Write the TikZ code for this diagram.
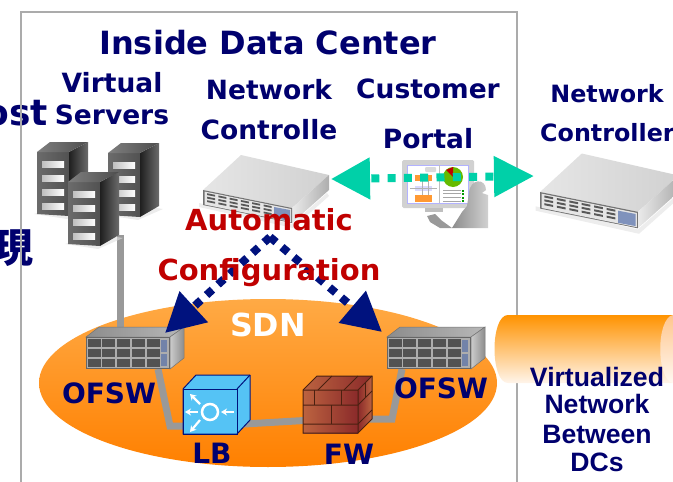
\documentclass[tikz,border=0pt]{standalone}
\usepackage{fontspec}
\setmainfont{DejaVu Sans}
\newfontfamily\arialf{Liberation Sans}
\newfontfamily\cjkf{Noto Sans CJK JP}
\usetikzlibrary{arrows.meta,calc,shapes.geometric}
\definecolor{navytext}{HTML}{00006E}
\definecolor{navyarrow}{HTML}{00127E}
\definecolor{tealarrow}{HTML}{00D0A8}
\definecolor{redtext}{HTML}{C00000}
\definecolor{framegray}{HTML}{ABABAB}
\definecolor{linkgray}{HTML}{999999}
\definecolor{lbfront}{HTML}{55C3F5}
\definecolor{cloudtop}{HTML}{FFAA45}
\definecolor{cloudbot}{HTML}{FF8000}
\definecolor{brickl}{HTML}{BC6340}
\definecolor{brickr}{HTML}{8A2A2A}
\definecolor{brickline}{HTML}{4A2010}
\definecolor{panelblue}{HTML}{7F92BC}
\tikzset{
  x=1pt,y=-1pt,
  lab/.style={font=\bfseries\fontsize{#1}{#1}\selectfont,text=navytext,inner sep=0pt,anchor=base},
  lab/.default=26.5,
  alab/.style={font=\arialf\bfseries\fontsize{26.6}{26.6}\selectfont,text=navytext,inner sep=0pt,anchor=base},
  redlab/.style={font=\bfseries\fontsize{29}{29}\selectfont,text=redtext,inner sep=0pt,anchor=base},
  hit/.style={inner sep=0pt,outer sep=0pt,minimum width=#1},
  link/.style={draw=linkgray,line width=7pt,line join=miter},
  autoarrow/.style={draw=navyarrow,line width=8pt,dash pattern=on 8pt off 7.6pt,
     -{Triangle[length=39pt,width=40pt,fill=navyarrow]}},
  portalarrow/.style={draw=tealarrow,line width=8pt,dash pattern=on 8pt off 8.3pt,dash phase=13pt,
     {Triangle[length=39pt,width=40pt,fill=tealarrow]}-{Triangle[length=40pt,width=39pt,fill=tealarrow]}},
}
\newcommand{\towerbox}[2]{%
 \begin{scope}[shift={(#1,#2)}]
  \fill[black!12,opacity=.6] (-3,62) -- (30,67) -- (55,56) -- (30,52) -- cycle;
  \shade[left color=black!58,right color=black!68] (0,0) -- (32,0) -- (32,64) -- (0,62) -- cycle;
  \shade[left color=black!88,right color=black!58] (32,0) -- (51,-10) -- (51,53) -- (32,64) -- cycle;
  \shade[left color=black!50,right color=black!70] (0,0) -- (13,-10) -- (51,-10) -- (32,0) -- cycle;
  \foreach \r in {0,1,2,3}{
   \shade[left color=black!25,right color=white] (5,{9+\r*14}) rectangle (27,{15+\r*14});
  }
 \end{scope}}
\newcommand{\ctrlbox}[3]{%
 \begin{scope}[shift={(#1,#2)},scale=#3]
  \fill[black!10,opacity=.7] (-4,13) -- (89,34) -- (124,3) -- (126,6) -- (90,38) -- (-4,17) -- cycle;
  \shade[left color=black!10,right color=black!18] (0,0) -- (38,-35) -- (126,-15) -- (89,18) -- cycle;
  \shade[left color=black!8,right color=black!32] (89,18) -- (126,-15) -- (126,0) -- (89,33) -- cycle;
  \fill[black!55] (0,0) -- (89,18) -- (89,33) -- (0,15) -- cycle;
  \fill[black!10] (1.5,1.5) -- (88,19) -- (88,32) -- (1.5,14.5) -- cycle;
  \foreach \c in {0,...,5}{\foreach \r in {0,1,2}{
    \fill[black!65] ({4+\c*11.3},{3.2+(\c*11.3)*.2+\r*3.5}) -- ++(8,1.6) -- ++(0,1.8) -- ++(-8,-1.6) -- cycle;
  }}
  \fill[panelblue] (71,17) -- (87,20) -- (87,31) -- (71,28) -- cycle;
 \end{scope}}
\newcommand{\swbox}[2]{%
 \begin{scope}[shift={(#1,#2)}]
  \shade[left color=black!45,right color=black!28,draw=black!55,line width=.5pt] (0,0) -- (13,-10) -- (98,-10) -- (84,0) -- cycle;
  \shade[left color=black!20,right color=black!45,draw=black!55,line width=.5pt] (84,0) -- (98,-10) -- (98,21) -- (84,32) -- cycle;
  \fill[black!60] (0,0) rectangle (84,32);
  \fill[black!32] (.7,.7) rectangle (83.3,31.3);
  \foreach \c in {0,...,4}{\foreach \r in {0,1,2}{
    \fill[black!68] ({1.5+\c*14.8},{2+\r*10}) rectangle ++(13,8);
  }}
  \fill[panelblue!90!black] (75,3) rectangle (81,15);
  \fill[panelblue!90!black] (75,17) rectangle (81,29);
 \end{scope}}
\begin{document}
\begin{tikzpicture}
\useasboundingbox (0,0) rectangle (673,482);
\clip (0,0) rectangle (673,482);
% labels cut by the page edge
\node[lab=36,anchor=base east] (hosttail) at (48,125) {ost};
\node[font=\cjkf\bfseries\fontsize{40}{40}\selectfont,text=navytext,inner sep=0pt] (kanji) at (14,248) {現};
% frame
\draw[framegray,line width=2.5pt] (21,490) -- (21,12) -- (517,12) -- (517,490);
% cylinder
\shade[top color=orange!85!yellow,bottom color=orange!8] (508,315) -- (680,315) -- (680,383) -- (508,383)
   .. controls (490,383) and (490,315) .. (508,315) -- cycle;
\shade[top color=orange!45,bottom color=orange!5] (673,315) .. controls (656,318) and (656,380) .. (673,383) -- cycle;
% cloud
\node[ellipse,minimum width=458pt,minimum height=168pt,inner sep=0pt,top color=cloudtop,bottom color=cloudbot] (sdn) at (268,383) {};
% anchors for connectors
\node[hit=32pt,minimum height=60pt] (srv) at (84,212) {};
\node[hit=84pt,minimum height=32pt] (ofswL) at (128,353) {};
\node[hit=84pt,minimum height=32pt] (ofswR) at (429,353) {};
\node[hit=54pt,minimum height=45pt] (lb) at (210,411) {};
\node[hit=55pt,minimum height=43pt] (fw) at (330,411) {};
\coordinate (srvdrop) at (120,235);
\coordinate (bendL) at (170,426);
\coordinate (bendR) at (392,419);
\coordinate (apex) at (270,237);
\coordinate (tipL) at (165,333);
\coordinate (tipR) at (382,332);
\coordinate (ctrlEnd) at (331,179);
\coordinate (ctrl2End) at (534,176);
% connectors under devices
\draw[link] (srvdrop) -- (srvdrop|-ofswL.north);
\draw[link] ([xshift=30pt]ofswL.south) -- (bendL) -- (lb.center|-bendL);
\draw[link] (lb.center|-bendL) -- (fw.center|-bendR);
\draw[link] (fw.center|-bendR) -- (bendR) -- ([xshift=-27pt]ofswR.south);
% servers
\towerbox{37}{152}
\towerbox{108}{153}
\towerbox{68}{182}
% controllers
\ctrlbox{203}{190}{1}
\ctrlbox{540}{192}{1.1}
% portal
\node[hit=72pt,minimum height=48pt] (portal) at (438,184) {};
\fill[black!18,rounded corners=1.5pt] (402,160) rectangle (474,208);
\fill[white,draw=blue!30,line width=.8pt] (407,165) rectangle (468,203);
\draw[black!25,line width=.5pt] (439,165) -- (439,203);
\fill[orange!80] (415,175) rectangle (432,181);
\fill[orange!80] (415,195) rectangle (432,202);
\fill[blue!15] (415,186) rectangle (432,191);
\draw[black!30,line width=.4pt] (410,188) -- (437,188) (422,181) -- (422,195) (428,181) -- (428,195);
\fill[black!15,rounded corners=1pt] (425,167) rectangle (436,172);
\fill[green!55!black!60!yellow] (453,177) circle (10);
\fill[red!75!black] (453,177) -- (446,170) -- (453,167) -- cycle;
\foreach \r in {0,...,3}{\draw[black!35,line width=.6pt] (443,{190+\r*3.6}) -- (461,{190+\r*3.6});
  \fill[green!60!black] (462,{189.5+\r*3.6}) rectangle ++(2,2);}
\fill[black!25] (425,208) rectangle (443,212);
\shade[left color=black!45,right color=black!18] (452,228) -- (462,212) -- (467,206) -- (469,193) .. controls (470,178) and (486,178) .. (486,190) -- (482,193) -- (488,195) -- (488,228) -- cycle;
\fill[black!40] (427,216) -- (435,214) -- (441,220) -- (452,228) -- (440,228) -- (430,222) -- cycle;
% LB
\fill[lbfront,draw=navyarrow,line width=1pt,line join=round] (183,389) -- (196,375) -- (250,375) -- (250,420) -- (237,434) -- (183,434) -- cycle;
\draw[navyarrow,line width=1pt] (183,389) rectangle (237,434);
\draw[navyarrow,line width=1pt] (237,389) -- (250,375);
\draw[white,line width=2.5pt] (210,412) circle (8);
\draw[white,line width=2.2pt,-{Stealth[length=6pt,width=7pt]}] (234,412) -- (221,412);
\draw[white,line width=2.2pt,-{Stealth[length=6pt,width=7pt]}] (198,412) -- (185,412);
\draw[white,line width=2.2pt,-{Stealth[length=6pt,width=7pt]}] (200,404) -- (190,394);
\draw[white,line width=2.2pt,-{Stealth[length=6pt,width=7pt]}] (200,420) -- (190,432);
% FW
\shade[left color=brickl,right color=brickr] (303,390) rectangle (358,433);
\shade[left color=brickr,right color=brickl] (358,390) -- (372,376) -- (372,419) -- (358,433) -- cycle;
\shade[left color=brickl,right color=brickr] (303,390) -- (317,376) -- (372,376) -- (358,390) -- cycle;
\begin{scope}[draw=brickline,line width=1pt]
 \draw (303,390) -- (317,376) -- (372,376) -- (372,419) -- (358,433) -- (303,433) -- cycle;
 \draw (303,390) -- (358,390) -- (372,376) (358,390) -- (358,433);
 \draw (303,405) -- (358,405) -- (372,391) (303,424) -- (358,424) -- (372,410);
 \draw (314,390) -- (314,405) (341,390) -- (341,405) (331,405) -- (331,424);
 \draw (318,390) -- (332,376) (344,390) -- (358,376);
 \draw (365,383) -- (365,398);
\end{scope}
% switches
\swbox{86}{337}
\swbox{387}{337}
% arrows
\draw[portalarrow] (ctrlEnd) -- (ctrl2End);
\draw[autoarrow] (apex) -- (tipL);
\draw[autoarrow] (apex) -- (tipR);
% text
\node[lab=32] (title) at (268,54) {Inside Data Center};
\node[lab] (t1) at (112,92) {Virtual};
\node[lab] (t2) at (112,124) {Servers};
\node[lab] (t3) at (269,99) {Network};
\node[lab] (t4) at (269,139) {Controlle};
\node[lab] (t5) at (428,98) {Customer};
\node[lab] (t6) at (428,148) {Portal};
\node[lab=23.8] (t7) at (607,102) {Network};
\node[lab=23.8,anchor=base west] (t8) at (540,141) {Controller};
\node[redlab] (r1) at (269,230) {Automatic};
\node[redlab] (r2) at (269,280) {Configuration};
\node[font=\bfseries\fontsize{31.7}{31.7}\selectfont,text=white,inner sep=0pt,anchor=base] (sdnlab) at (268,336) {SDN};
\node[lab=28] (o1) at (109,403) {OFSW};
\node[lab=28] (o2) at (441,398) {OFSW};
\node[lab=28] (lblab) at (212,463) {LB};
\node[lab=28] (fwlab) at (349,464) {FW};
\node[alab] (v1) at (597,386) {Virtualized};
\node[alab] (v2) at (597,413) {Network};
\node[alab] (v3) at (597,443) {Between};
\node[alab] (v4) at (597,471) {DCs};
\end{tikzpicture}
\end{document}
